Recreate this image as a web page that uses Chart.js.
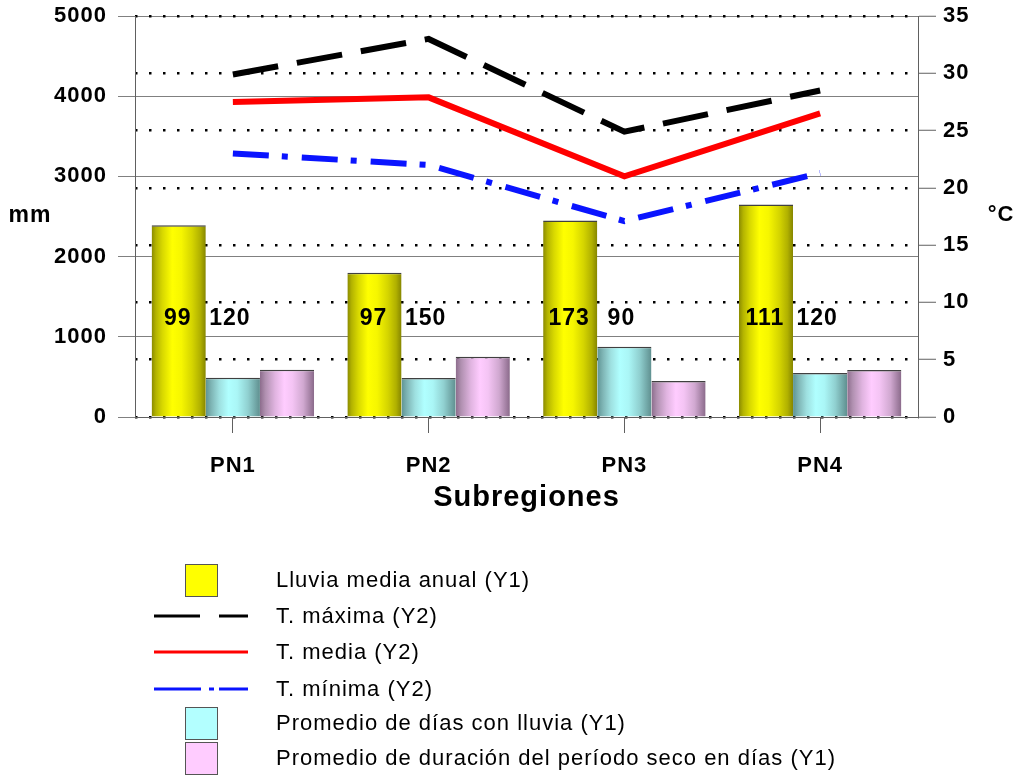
<!DOCTYPE html>
<html><head><meta charset="utf-8">
<script src="https://cdn.jsdelivr.net/npm/chart.js@4.4.0/dist/chart.umd.min.js"></script>
<style>html,body{margin:0;padding:0;background:#fff;}#wrap{width:1020px;height:778px;position:relative;}</style>
</head><body><div id="wrap"><canvas id="c" width="1020" height="778"></canvas></div>
<script>
// ---- data ----
const categories = ['PN1', 'PN2', 'PN3', 'PN4'];
const lluviaMediaAnual = [2390, 1800, 2450, 2650];          // Y1 (mm)
const diasConLluviaBar = [490, 487, 875, 550];              // Y1 bar heights
const periodoSecoBar = [590, 750, 450, 587];                // Y1 bar heights
const tMaxima = [29.9, 33.0, 24.9, 28.5];                   // Y2 (°C)
const tMedia = [27.5, 27.9, 21.0, 26.5];
const tMinima = [23.0, 22.0, 17.1, 21.3];
const diasConLluviaLabel = ['99', '97', '173', '111'];
const periodoSecoLabel = ['120', '150', '90', '120'];
const seriesNames = ['Lluvia media anual (Y1)', 'T. máxima (Y2)', 'T. media (Y2)', 'T. mínima (Y2)',
  'Promedio de días con lluvia (Y1)', 'Promedio de duración del período seco en días (Y1)'];
const y1Range = [0, 5000, 1000];
const y2Range = [0, 35, 5];
const y1Title = 'mm';
const y2Title = '°C';
const xTitle = 'Subregiones';

const CAT_PCT = 0.83;
const FONT = "'Liberation Sans', Arial, sans-serif";

function cylinder(stops, pos, flat) {
  return function (ctx) {
    const chart = ctx.chart;
    const xs = chart.scales && chart.scales.x;
    if (!xs || ctx.dataIndex === undefined || !isFinite(xs.width) || xs.width <= 0) return flat;
    const center = xs.getPixelForValue(ctx.dataIndex);
    const catW = xs.width / categories.length;
    const barW = catW * CAT_PCT / 3;
    const left = center + (pos - 1.5) * barW;
    const g = chart.ctx.createLinearGradient(left, 0, left + barW, 0);
    stops.forEach(s => g.addColorStop(s[0], s[1]));
    return g;
  };
}
const yellowStops = [[0, '#8a8a00'], [0.08, '#b4b400'], [0.2, '#d8d800'], [0.38, '#ffff00'], [0.55, '#f6f600'], [0.75, '#d4d400'], [0.9, '#b0b000'], [1, '#858500']];
const cyanStops = [[0, '#5e9494'], [0.1, '#7eb4b4'], [0.25, '#9ee0e0'], [0.42, '#b0ffff'], [0.58, '#aaf6f6'], [0.78, '#90d0d0'], [1, '#5f8f8f']];
const pinkStops = [[0, '#8c6c8c'], [0.1, '#b090b0'], [0.28, '#e0b4e0'], [0.45, '#ffccff'], [0.6, '#f4c4f4'], [0.8, '#d0a8d0'], [1, '#8a6a8a']];

const barCommon = {
  type: 'bar', yAxisID: 'y1', order: 2,
  categoryPercentage: CAT_PCT, barPercentage: 1.0,
  borderWidth: { top: 1.5, left: 0, right: 0, bottom: 0 }, borderSkipped: false,
  borderColor: '#404040'
};

const extras = {
  id: 'extras',
  beforeLayout(chart) { chart.ctx.letterSpacing = '1px'; },
  afterDatasetsDraw(chart) {
    const c = chart.ctx;
    const y = chart.scales.y1.getPixelForValue(1230);
    c.save();
    c.font = 'bold 23px ' + FONT;
    c.fillStyle = '#000';
    c.textAlign = 'center';
    c.textBaseline = 'middle';
    const m0 = chart.getDatasetMeta(0), m4 = chart.getDatasetMeta(4);
    categories.forEach((_, i) => {
      c.fillText(diasConLluviaLabel[i], m0.data[i].x - 1, y);
      c.fillText(periodoSecoLabel[i], m4.data[i].x - 3, y);
    });
    c.restore();
  },
  afterDraw(chart) {
    const c = chart.ctx;
    c.save();
    c.fillStyle = '#000';
    c.textBaseline = 'middle';
    c.font = 'bold 23px ' + FONT;
    c.textAlign = 'center';
    c.fillText(y1Title, 30, 216);
    c.font = 'bold 22px ' + FONT;
    c.fillText(y2Title, 1001, 215);
    // legend
    const ds = chart.data.datasets;
    const rowY = [580, 616, 652, 689, 723, 758];
    c.font = '22px ' + FONT;
    c.letterSpacing = '1px';
    c.textAlign = 'left';
    ds.forEach((d, k) => {
      const y = rowY[k];
      if (d.type === 'bar') {
        c.fillStyle = d.legendColor;
        c.fillRect(185, y - 16, 32, 32);
        c.strokeStyle = '#555';
        c.lineWidth = 1;
        c.strokeRect(185.5, y - 15.5, 32, 32);
      } else {
        c.save();
        c.strokeStyle = d.borderColor;
        c.lineWidth = 3;
        c.setLineDash(d.legendDash || []);
        c.beginPath();
        c.moveTo(154, y);
        c.lineTo(248, y);
        c.stroke();
        c.restore();
      }
      c.fillStyle = '#000';
      c.fillText(d.label, 276, y + 1);
    });
    c.restore();
  }
};

const plainTick = v => String(v);

new Chart(document.getElementById('c'), {
  type: 'bar',
  data: {
    labels: categories,
    datasets: [
      Object.assign({}, barCommon, { label: seriesNames[0], data: lluviaMediaAnual, legendColor: '#ffff00',
        backgroundColor: cylinder(yellowStops, 0, '#ffff00') }),
      { type: 'line', label: seriesNames[1], data: tMaxima, yAxisID: 'y2', order: 1,
        borderColor: '#000000', borderWidth: 6, borderDash: [46, 19], borderCapStyle: 'butt',
        legendDash: [46, 19], pointRadius: 0, tension: 0, fill: false },
      { type: 'line', label: seriesNames[2], data: tMedia, yAxisID: 'y2', order: 1,
        borderColor: '#ff0000', borderWidth: 6, borderCapStyle: 'butt',
        pointRadius: 0, tension: 0, fill: false },
      { type: 'line', label: seriesNames[3], data: tMinima, yAxisID: 'y2', order: 1,
        borderColor: '#0a14ff', borderWidth: 6, borderDash: [36, 13, 6, 14], borderCapStyle: 'butt',
        legendDash: [47, 8, 5, 5], pointRadius: 0, tension: 0, fill: false },
      Object.assign({}, barCommon, { label: seriesNames[4], data: diasConLluviaBar, legendColor: '#b3ffff',
        backgroundColor: cylinder(cyanStops, 1, '#b3ffff') }),
      Object.assign({}, barCommon, { label: seriesNames[5], data: periodoSecoBar, legendColor: '#ffccff',
        backgroundColor: cylinder(pinkStops, 2, '#ffccff') })
    ]
  },
  options: {
    responsive: false,
    animation: false,
    events: [],
    layout: { padding: { left: 0, right: 0, top: 16, bottom: 261 } },
    plugins: { legend: { display: false }, tooltip: { enabled: false } },
    scales: {
      x: {
        afterFit(s) { s.height = 100; },
        grid: { display: true, drawOnChartArea: false, offset: false, tickLength: 16, color: '#606060' },
        border: { display: true, color: '#606060' },
        ticks: { color: '#000', font: { family: FONT, size: 22, weight: 'bold' }, padding: 20 },
        title: { display: true, text: xTitle, color: '#000', font: { family: FONT, size: 29, weight: 'bold' }, padding: { top: 0, bottom: 2 } }
      },
      y1: {
        position: 'left', min: y1Range[0], max: y1Range[1],
        afterFit(s) { s.width = 135; s.paddingTop = 0; s.paddingBottom = 0; },
        ticks: { stepSize: y1Range[2], callback: plainTick, color: '#000', font: { family: FONT, size: 22, weight: 'bold' }, padding: 11 },
        grid: { color: '#808080', lineWidth: 1, tickLength: 17 },
        border: { display: true, color: '#606060' }
      },
      y2: {
        position: 'right', min: y2Range[0], max: y2Range[1],
        afterFit(s) { s.width = 102; s.paddingTop = 0; s.paddingBottom = 0; },
        ticks: { stepSize: y2Range[2], callback: plainTick, color: '#000', font: { family: FONT, size: 22, weight: 'bold' }, padding: 7 },
        grid: { color: '#000', lineWidth: 2.5, tickLength: 18, tickColor: '#606060', tickWidth: 1 },
        border: { display: true, color: '#606060', dash: [2.5, 11.5] }
      }
    }
  },
  plugins: [extras]
});
</script>
</body></html>
